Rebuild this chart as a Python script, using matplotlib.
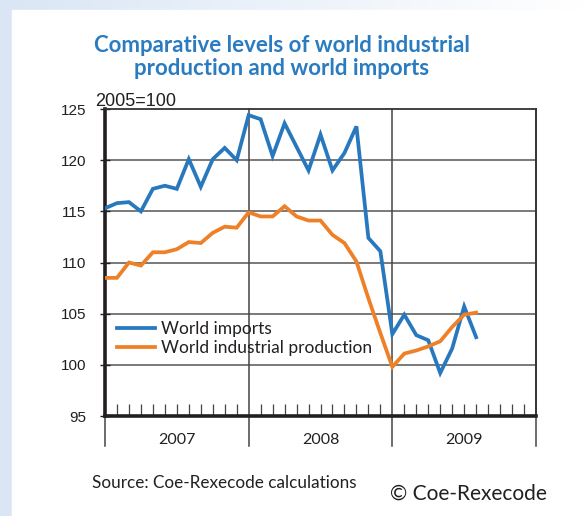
import matplotlib
matplotlib.use("Agg")
import matplotlib.pyplot as plt
import matplotlib.transforms as mtransforms
from matplotlib.patches import Rectangle
import numpy as np

# monthly index, 2005=100, Jan 2007 .. Aug 2009
months = list(range(32))
imports = [115.3, 115.8, 115.9, 115.0, 117.2, 117.5, 117.2, 120.1, 117.4, 120.1,
           121.2, 120.0, 124.4, 124.0, 120.4, 123.6, 121.3, 119.0, 122.5, 119.0,
           120.7, 123.3, 112.4, 111.1, 103.0, 104.9, 102.9, 102.4, 99.2, 101.6,
           105.7, 102.7]
production = [108.5, 108.5, 110.0, 109.7, 111.0, 111.0, 111.3, 112.0, 111.9, 112.9,
              113.5, 113.4, 114.9, 114.5, 114.5, 115.5, 114.5, 114.1, 114.1, 112.7,
              111.9, 110.1, 106.5, 103.1, 99.8, 101.1, 101.4, 101.8, 102.3, 103.7,
              104.9, 105.1]
years = ["2007", "2008", "2009"]
yticks = [95, 100, 105, 110, 115, 120, 125]

BLUE = "#2878be"
ORANGE = "#ee8127"
TITLE_BLUE = "#2a7bc0"
TXT = "#231f20"

fig = plt.figure(figsize=(5.84, 5.16), dpi=100)

# light blue frame fading to white on the top band
bg = fig.add_axes([0, 0, 1, 1], zorder=-10)
bg.axis("off")
grad = np.linspace(0, 1, 256).reshape(1, -1)
c0 = np.array([0.855, 0.902, 0.961])
c1 = np.array([1.0, 1.0, 1.0])
img = c0[None, None, :] * (1 - grad[..., None]) + c1[None, None, :] * grad[..., None]
bg.imshow(img, aspect="auto", extent=[0, 1, 0, 1])
bg.set_xlim(0, 1)
bg.set_ylim(0, 1)
bg.add_patch(Rectangle((12 / 584, 0), 1, 1 - 10 / 516, color="white", zorder=2))

ax = fig.add_axes([105 / 584, 1 - 416 / 516, 431 / 584, 307 / 516])
ax.plot(months, imports, color=BLUE, lw=2.7, solid_joinstyle="miter", zorder=4,
        label="World imports")
ax.plot(months, production, color=ORANGE, lw=2.7, solid_joinstyle="miter", zorder=4,
        label="World industrial production")

ax.set_xlim(0, 36)
ax.set_ylim(95, 125)
ax.set_yticks(yticks)
ax.set_yticklabels([str(v) for v in yticks], fontsize=11, family="Liberation Sans", color=TXT)
ax.tick_params(axis="y", direction="inout", length=7, width=1, color=TXT, pad=10)

ax.set_xticks([12, 24])
ax.set_xticks([m for m in range(1, 36) if m % 12], minor=True)
ax.tick_params(axis="x", which="major", length=0, labelbottom=False)
ax.tick_params(axis="x", which="minor", direction="in", length=9, width=0.9, color="#444444")

for y in yticks[1:-1]:
    ax.axhline(y, color="#555555", lw=1.1, zorder=1)

for s in ["left", "bottom"]:
    ax.spines[s].set_linewidth(2.6)
    ax.spines[s].set_color(TXT)
for s in ["top", "right"]:
    ax.spines[s].set_linewidth(1.3)
    ax.spines[s].set_color("#333333")

# year separators running down through the label row
trans = mtransforms.blended_transform_factory(ax.transData, ax.transAxes)
for x in [0, 12, 24, 36]:
    ax.plot([x, x], [-0.098, 1], transform=trans, color="#444444", lw=1.1,
            clip_on=False, zorder=2)
for i, yr in enumerate(years):
    ax.text(i * 12 + 6, -0.077, yr, transform=trans, ha="center", va="center",
            fontsize=11.5, family="Lato", color=TXT)

ax.legend(loc="upper left", bbox_to_anchor=(0.0, 0.35), frameon=False,
          prop={"family": "Lato", "size": 12.5}, handlelength=2.2,
          handletextpad=0.35, labelspacing=0.18, borderaxespad=0.3,
          labelcolor=TXT)

fig.text(95 / 584, 1 - 106 / 516, "2005=100", fontsize=13, family="Liberation Sans",
         color=TXT, ha="left", va="baseline")
fig.text(282 / 584, 1 - 57 / 516, "Comparative levels of world industrial\nproduction and world imports",
         ha="center", va="center", fontsize=16, fontweight="bold", family="Lato",
         color=TITLE_BLUE, linespacing=1.1)
fig.text(92 / 584, 1 - 483 / 516, "Source: Coe-Rexecode calculations", fontsize=12.3,
         family="Lato", color=TXT, ha="left", va="center")
fig.text(390 / 584, 1 - 494 / 516, "\u00a9 Coe-Rexecode", fontsize=15,
         family="Lato", color=TXT, ha="left", va="center")

fig.savefig("out.png", dpi=100)
